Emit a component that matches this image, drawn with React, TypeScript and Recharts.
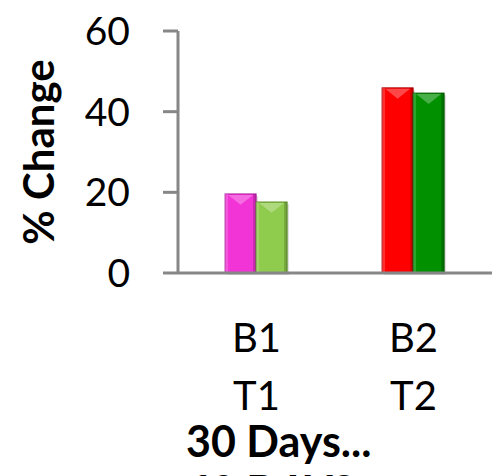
import React from "react";
import { BarChart, Bar, XAxis, YAxis, Cell, Label } from "recharts";

const categories = ["B1 T1", "B2 T2"];
const seriesA = [19.6, 45.9];
const seriesB = [17.6, 44.6];
const colorsA = ["#F233D6", "#FF0000"];
const colorsB = ["#8FCB4C", "#009000"];
const strokesA = ["#B01E9C", "#B00000"];
const strokesB = ["#5E8F2A", "#005A00"];
const yTicks = [0, 20, 40, 60];
const yTitle = "% Change";
const xTitle = "30 Days...";
const xTitle2 = "60 DAYS";

const data = categories.map((c, i) => ({ name: c, a: seriesA[i], b: seriesB[i] }));

const FONT = "Lato, 'Open Sans', sans-serif";

const XTick = (props: any) => {
  const { x, y, payload } = props;
  const parts = String(payload.value).split(" ");
  return (
    <text x={x} y={y} textAnchor="middle" fontFamily={FONT} fontSize={40} fill="#000">
      <tspan x={x} dy={79}>{parts[0]}</tspan>
      <tspan x={x} dy={58}>{parts[1]}</tspan>
    </text>
  );
};

const BevelBar = (props: any) => {
  const { x, y, width, height, fill, stroke } = props;
  if (!height || height <= 0) return null;
  const tri = Math.min(width * 0.35, 12);
  return (
    <g>
      <rect x={x + 2} y={y + 2} width={width} height={height} fill="rgba(0,0,0,0.12)" />
      <rect x={x} y={y} width={width} height={height} fill={fill} stroke={stroke} strokeWidth={1} />
      <rect x={x} y={y} width={3} height={height} fill="rgba(255,255,255,0.18)" />
      <rect x={x + width - 3} y={y} width={3} height={height} fill="rgba(0,0,0,0.18)" />
      <polygon
        points={`${x + 3},${y + 1} ${x + width - 3},${y + 1} ${x + width / 2},${y + tri}`}
        fill="rgba(255,255,255,0.28)"
      />
    </g>
  );
};

export default function App() {
  return (
    <div style={{ position: "absolute", left: 0, top: 0, width: 500, height: 476, background: "#fff", overflow: "hidden" }}>
      <BarChart
        width={500}
        height={476}
        data={data}
        margin={{ top: 31, right: 8, bottom: 0, left: 0 }}
        barCategoryGap="30%"
        barGap={0}
      >
        <XAxis
          dataKey="name"
          height={203}
          tickLine={false}
          tickSize={0}
          tickMargin={0}
          axisLine={{ stroke: "#878787", strokeWidth: 3 }}
          tick={<XTick />}
          interval={0}
        >
          <Label
            content={() => (
              <g>
                <text x={186} y={457} fontFamily={FONT} fontWeight="bold" fontSize={43} fill="#000">
                  {xTitle}
                </text>
                <text x={186} y={507} fontFamily={FONT} fontWeight="bold" fontSize={43} fill="#000">
                  {xTitle2}
                </text>
              </g>
            )}
          />
        </XAxis>
        <YAxis
          width={178}
          domain={[0, 60]}
          ticks={yTicks}
          tickSize={15}
          tickMargin={33}
          interval={0}
          tickLine={{ stroke: "#878787", strokeWidth: 3 }}
          axisLine={{ stroke: "#878787", strokeWidth: 3 }}
          tick={{ fontFamily: FONT, fontSize: 39, fill: "#000" }}
        >
          <Label
            content={() => (
              <text
                transform="translate(54,152) rotate(-90)"
                textAnchor="middle"
                fontFamily={FONT}
                fontWeight="bold"
                fontSize={42}
                fill="#000"
              >
                {yTitle}
              </text>
            )}
          />
        </YAxis>
        <Bar dataKey="a" isAnimationActive={false} shape={<BevelBar />}>
          {data.map((d, i) => (
            <Cell key={"a" + i} fill={colorsA[i]} stroke={strokesA[i]} />
          ))}
        </Bar>
        <Bar dataKey="b" isAnimationActive={false} shape={<BevelBar />}>
          {data.map((d, i) => (
            <Cell key={"b" + i} fill={colorsB[i]} stroke={strokesB[i]} />
          ))}
        </Bar>
      </BarChart>
    </div>
  );
}
